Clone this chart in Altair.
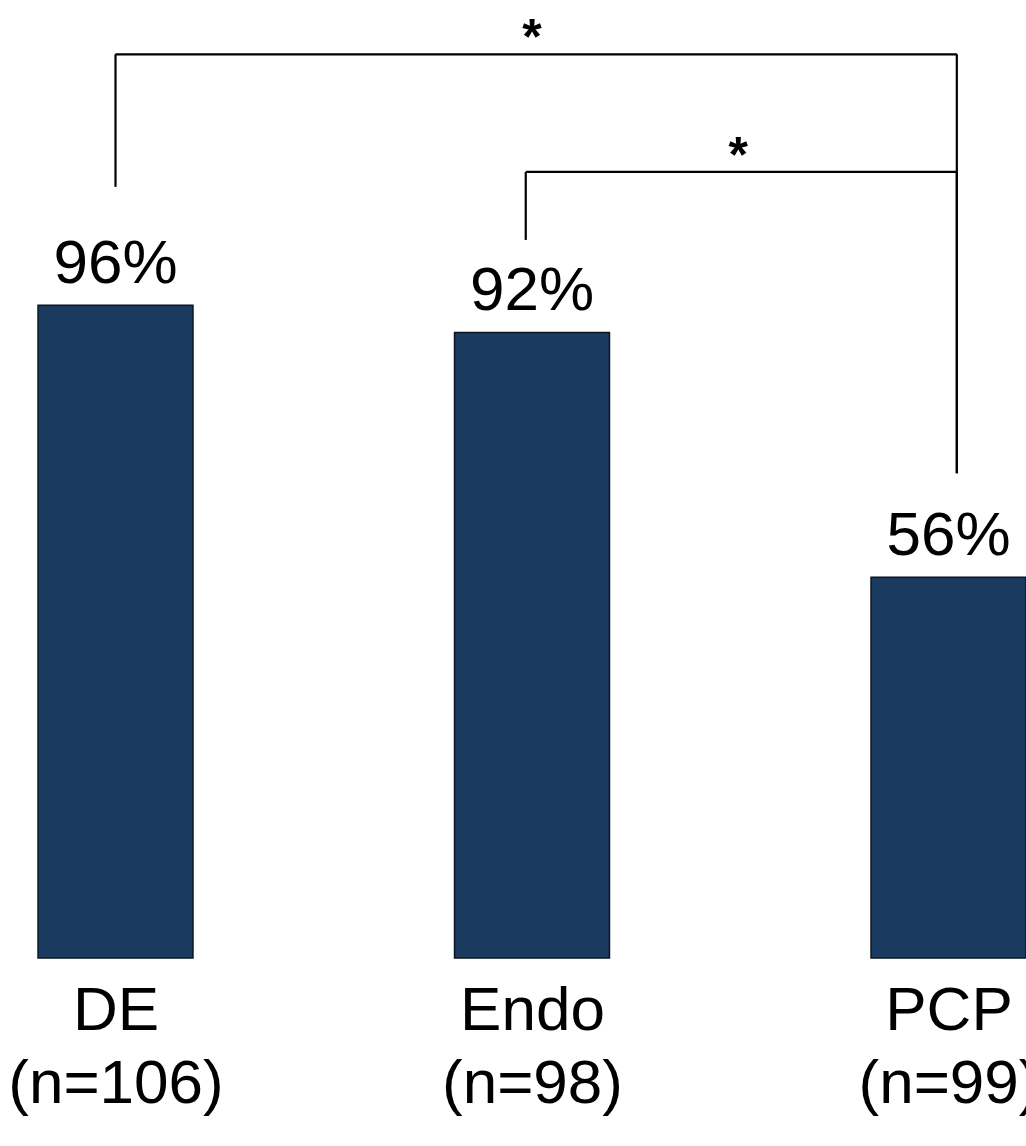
import altair as alt
import pandas as pd

# data
groups = ["DE", "Endo", "PCP"]
group_n = ["(n=106)", "(n=98)", "(n=99)"]
pct = [96, 92, 56]
pct_labels = ["96%", "92%", "56%"]

# significance brackets (annotation geometry in data units)
br_x1 = [0.0, 0.985]
br_x2 = [2.02, 2.02]
br_top = [132.9, 115.6]
br_left_low = [113.4, 105.6]
br_right_low = [71.3, 71.3]
star_x = [1.0, 1.495]
star_y = [132.9, 115.6]
star_txt = ["*", "*"]

W, H = 1026, 958
PX_PER = 6.8
ymax = H / PX_PER
x0 = -115.5 / 416.5
x1 = (W - 115.5) / 416.5

bars = pd.DataFrame({"i": [0, 1, 2], "g": groups, "n": group_n, "v": pct, "lab": pct_labels})
bars["xl"] = bars["i"] - 0.186
bars["xr"] = bars["i"] + 0.186

xs = alt.Scale(domain=[x0, x1], nice=False, zero=False)
ys = alt.Scale(domain=[0, ymax], nice=False, zero=False)

lab_expr = " : ".join(
    f"datum.value == {i} ? ['{g}', '{n}']" for i, (g, n) in enumerate(zip(groups, group_n))
) + " : ''"

xaxis = alt.Axis(
    values=[0, 1, 2],
    labelExpr=lab_expr,
    domain=False, ticks=False, grid=False, title=None,
    labelFontSize=62, labelFont="Liberation Sans", labelColor="black",
    labelPadding=22, labelLineHeight=73, labelBaseline="top",
    labelFlush=False, labelOverlap=False, labelAngle=0, labelLimit=0,
)

bar = alt.Chart(bars).mark_rect(color="#1b3a5f", stroke="#0b1522", strokeWidth=1.5).encode(
    x=alt.X("xl:Q", scale=xs, axis=xaxis),
    x2="xr:Q",
    y=alt.Y("v:Q", scale=ys, axis=None),
    y2=alt.datum(0),
)

txt = alt.Chart(bars).mark_text(
    fontSize=62, font="Liberation Sans", color="black", baseline="alphabetic", dy=-22
).encode(x=alt.X("i:Q", scale=xs), y=alt.Y("v:Q", scale=ys), text="lab:N")

segs = []
for k in range(2):
    segs.append({"x": br_x1[k], "x2": br_x2[k], "y": br_top[k], "y2": br_top[k]})
    segs.append({"x": br_x1[k], "x2": br_x1[k], "y": br_left_low[k], "y2": br_top[k]})
    segs.append({"x": br_x2[k], "x2": br_x2[k], "y": br_right_low[k], "y2": br_top[k]})
seg_df = pd.DataFrame(segs)

rules = alt.Chart(seg_df).mark_rule(color="black", strokeWidth=2.2).encode(
    x=alt.X("x:Q", scale=xs), x2="x2:Q",
    y=alt.Y("y:Q", scale=ys), y2="y2:Q",
)

stars = alt.Chart(pd.DataFrame({"x": star_x, "y": star_y, "t": star_txt})).mark_text(
    fontSize=50, font="Liberation Sans", fontWeight="bold", color="black", baseline="middle", dy=-15
).encode(x=alt.X("x:Q", scale=xs), y=alt.Y("y:Q", scale=ys), text="t:N")

chart = alt.layer(bar, txt, rules, stars).properties(
    width=W, height=H,
    autosize=alt.AutoSizeParams(type="none"),
    padding={"left": 0, "right": 0, "top": 0, "bottom": 1146 - H},
    background="white",
).configure_view(stroke=None, strokeWidth=0, clip=False)

chart.save("out.html", embed_options={"renderer": "svg", "actions": False})
